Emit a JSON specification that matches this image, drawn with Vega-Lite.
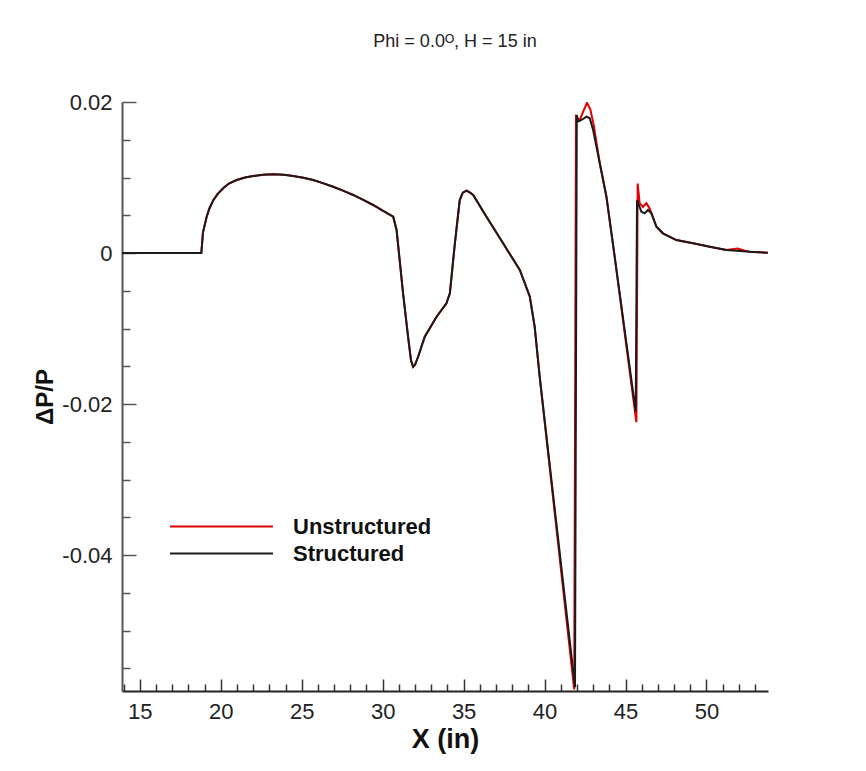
{
  "$schema": "https://vega.github.io/schema/vega-lite/v6.json",
  "width": 646,
  "height": 589,
  "autosize": {"type": "none"},
  "padding": {"left": 122, "top": 102, "right": 98, "bottom": 80},
  "background": "white",
  "config": {"view": {"stroke": null}, "font": "Liberation Sans"},
  "title": {"text": "Phi = 0.0ᴼ, H = 15 in", "fontSize": 18, "fontWeight": "normal", "font": "Liberation Sans", "color": "#222", "anchor": "middle", "dx": 10, "offset": 40},
  "datasets": {
    "pts": [
      {"series": "Unstructured", "x": 13.9, "y": 0},
      {"series": "Unstructured", "x": 18.8, "y": 0},
      {"series": "Unstructured", "x": 18.9, "y": 0.0027},
      {"series": "Unstructured", "x": 19.13, "y": 0.0048},
      {"series": "Unstructured", "x": 19.3, "y": 0.0059},
      {"series": "Unstructured", "x": 19.54, "y": 0.0070},
      {"series": "Unstructured", "x": 19.8, "y": 0.0078},
      {"series": "Unstructured", "x": 20.15, "y": 0.00857},
      {"series": "Unstructured", "x": 20.5, "y": 0.0092},
      {"series": "Unstructured", "x": 20.98, "y": 0.00967},
      {"series": "Unstructured", "x": 21.5, "y": 0.0100},
      {"series": "Unstructured", "x": 22.0, "y": 0.0102},
      {"series": "Unstructured", "x": 22.6, "y": 0.01037},
      {"series": "Unstructured", "x": 23.24, "y": 0.01043},
      {"series": "Unstructured", "x": 23.9, "y": 0.01037},
      {"series": "Unstructured", "x": 24.47, "y": 0.0102},
      {"series": "Unstructured", "x": 25.1, "y": 0.00997},
      {"series": "Unstructured", "x": 25.71, "y": 0.00967},
      {"series": "Unstructured", "x": 26.3, "y": 0.00926},
      {"series": "Unstructured", "x": 26.94, "y": 0.00878},
      {"series": "Unstructured", "x": 27.55, "y": 0.00826},
      {"series": "Unstructured", "x": 28.18, "y": 0.00769},
      {"series": "Unstructured", "x": 28.8, "y": 0.00705},
      {"series": "Unstructured", "x": 29.41, "y": 0.00636},
      {"series": "Unstructured", "x": 30.0, "y": 0.00563},
      {"series": "Unstructured", "x": 30.65, "y": 0.00481},
      {"series": "Unstructured", "x": 30.86, "y": 0.00305},
      {"series": "Unstructured", "x": 31.26, "y": -0.00534},
      {"series": "Unstructured", "x": 31.57, "y": -0.01109},
      {"series": "Unstructured", "x": 31.75, "y": -0.0142},
      {"series": "Unstructured", "x": 31.88, "y": -0.01507},
      {"series": "Unstructured", "x": 32.0, "y": -0.0148},
      {"series": "Unstructured", "x": 32.19, "y": -0.01374},
      {"series": "Unstructured", "x": 32.6, "y": -0.01109},
      {"series": "Unstructured", "x": 33.33, "y": -0.00844},
      {"series": "Unstructured", "x": 33.94, "y": -0.00666},
      {"series": "Unstructured", "x": 34.15, "y": -0.00534},
      {"series": "Unstructured", "x": 34.46, "y": 0.00129},
      {"series": "Unstructured", "x": 34.76, "y": 0.00702},
      {"series": "Unstructured", "x": 34.95, "y": 0.0080},
      {"series": "Unstructured", "x": 35.18, "y": 0.00825},
      {"series": "Unstructured", "x": 35.4, "y": 0.0080},
      {"series": "Unstructured", "x": 35.59, "y": 0.00769},
      {"series": "Unstructured", "x": 36.41, "y": 0.00481},
      {"series": "Unstructured", "x": 37.44, "y": 0.00129},
      {"series": "Unstructured", "x": 38.47, "y": -0.00225},
      {"series": "Unstructured", "x": 39.09, "y": -0.00579},
      {"series": "Unstructured", "x": 39.39, "y": -0.00977},
      {"series": "Unstructured", "x": 39.7, "y": -0.01639},
      {"series": "Unstructured", "x": 41.83, "y": -0.0578},
      {"series": "Unstructured", "x": 41.94, "y": 0.0181},
      {"series": "Unstructured", "x": 42.17, "y": 0.0176},
      {"series": "Unstructured", "x": 42.38, "y": 0.0187},
      {"series": "Unstructured", "x": 42.62, "y": 0.0199},
      {"series": "Unstructured", "x": 42.83, "y": 0.0190},
      {"series": "Unstructured", "x": 43.03, "y": 0.0170},
      {"series": "Unstructured", "x": 43.41, "y": 0.01189},
      {"series": "Unstructured", "x": 43.82, "y": 0.00746},
      {"series": "Unstructured", "x": 44.3, "y": 0.0},
      {"series": "Unstructured", "x": 45.67, "y": -0.0224},
      {"series": "Unstructured", "x": 45.75, "y": 0.0092},
      {"series": "Unstructured", "x": 45.87, "y": 0.0066},
      {"series": "Unstructured", "x": 46.08, "y": 0.0061},
      {"series": "Unstructured", "x": 46.29, "y": 0.0066},
      {"series": "Unstructured", "x": 46.49, "y": 0.0059},
      {"series": "Unstructured", "x": 46.91, "y": 0.00348},
      {"series": "Unstructured", "x": 47.31, "y": 0.00261},
      {"series": "Unstructured", "x": 48.14, "y": 0.00172},
      {"series": "Unstructured", "x": 49.17, "y": 0.00129},
      {"series": "Unstructured", "x": 50.2, "y": 0.00083},
      {"series": "Unstructured", "x": 51.23, "y": 0.0004},
      {"series": "Unstructured", "x": 51.93, "y": 0.0006},
      {"series": "Unstructured", "x": 52.37, "y": 0.0003},
      {"series": "Unstructured", "x": 52.66, "y": 0.00017},
      {"series": "Unstructured", "x": 53.79, "y": 0.00004},
      {"series": "Structured", "x": 13.9, "y": 0},
      {"series": "Structured", "x": 18.8, "y": 0},
      {"series": "Structured", "x": 18.9, "y": 0.0027},
      {"series": "Structured", "x": 19.13, "y": 0.0048},
      {"series": "Structured", "x": 19.3, "y": 0.0059},
      {"series": "Structured", "x": 19.54, "y": 0.0070},
      {"series": "Structured", "x": 19.8, "y": 0.0078},
      {"series": "Structured", "x": 20.15, "y": 0.00857},
      {"series": "Structured", "x": 20.5, "y": 0.0092},
      {"series": "Structured", "x": 20.98, "y": 0.00967},
      {"series": "Structured", "x": 21.5, "y": 0.0100},
      {"series": "Structured", "x": 22.0, "y": 0.0102},
      {"series": "Structured", "x": 22.6, "y": 0.01037},
      {"series": "Structured", "x": 23.24, "y": 0.01043},
      {"series": "Structured", "x": 23.9, "y": 0.01037},
      {"series": "Structured", "x": 24.47, "y": 0.0102},
      {"series": "Structured", "x": 25.1, "y": 0.00997},
      {"series": "Structured", "x": 25.71, "y": 0.00967},
      {"series": "Structured", "x": 26.3, "y": 0.00926},
      {"series": "Structured", "x": 26.94, "y": 0.00878},
      {"series": "Structured", "x": 27.55, "y": 0.00826},
      {"series": "Structured", "x": 28.18, "y": 0.00769},
      {"series": "Structured", "x": 28.8, "y": 0.00705},
      {"series": "Structured", "x": 29.41, "y": 0.00636},
      {"series": "Structured", "x": 30.0, "y": 0.00563},
      {"series": "Structured", "x": 30.65, "y": 0.00481},
      {"series": "Structured", "x": 30.86, "y": 0.00305},
      {"series": "Structured", "x": 31.26, "y": -0.00534},
      {"series": "Structured", "x": 31.57, "y": -0.01109},
      {"series": "Structured", "x": 31.75, "y": -0.0142},
      {"series": "Structured", "x": 31.88, "y": -0.01507},
      {"series": "Structured", "x": 32.0, "y": -0.0148},
      {"series": "Structured", "x": 32.19, "y": -0.01374},
      {"series": "Structured", "x": 32.6, "y": -0.01109},
      {"series": "Structured", "x": 33.33, "y": -0.00844},
      {"series": "Structured", "x": 33.94, "y": -0.00666},
      {"series": "Structured", "x": 34.15, "y": -0.00534},
      {"series": "Structured", "x": 34.46, "y": 0.00129},
      {"series": "Structured", "x": 34.76, "y": 0.00702},
      {"series": "Structured", "x": 34.95, "y": 0.0080},
      {"series": "Structured", "x": 35.18, "y": 0.00825},
      {"series": "Structured", "x": 35.4, "y": 0.0080},
      {"series": "Structured", "x": 35.59, "y": 0.00769},
      {"series": "Structured", "x": 36.41, "y": 0.00481},
      {"series": "Structured", "x": 37.44, "y": 0.00129},
      {"series": "Structured", "x": 38.47, "y": -0.00225},
      {"series": "Structured", "x": 39.09, "y": -0.00579},
      {"series": "Structured", "x": 39.39, "y": -0.00977},
      {"series": "Structured", "x": 39.7, "y": -0.01639},
      {"series": "Structured", "x": 41.88, "y": -0.0575},
      {"series": "Structured", "x": 41.99, "y": 0.0183},
      {"series": "Structured", "x": 42.07, "y": 0.0174},
      {"series": "Structured", "x": 42.28, "y": 0.01762},
      {"series": "Structured", "x": 42.59, "y": 0.01806},
      {"series": "Structured", "x": 42.79, "y": 0.01785},
      {"series": "Structured", "x": 43.0, "y": 0.0163},
      {"series": "Structured", "x": 43.41, "y": 0.01189},
      {"series": "Structured", "x": 43.82, "y": 0.00746},
      {"series": "Structured", "x": 44.3, "y": 0.0},
      {"series": "Structured", "x": 45.63, "y": -0.0210},
      {"series": "Structured", "x": 45.71, "y": 0.0070},
      {"series": "Structured", "x": 45.98, "y": 0.00547},
      {"series": "Structured", "x": 46.18, "y": 0.00526},
      {"series": "Structured", "x": 46.39, "y": 0.0057},
      {"series": "Structured", "x": 46.6, "y": 0.00526},
      {"series": "Structured", "x": 46.91, "y": 0.00348},
      {"series": "Structured", "x": 47.31, "y": 0.00261},
      {"series": "Structured", "x": 48.14, "y": 0.00172},
      {"series": "Structured", "x": 49.17, "y": 0.00129},
      {"series": "Structured", "x": 50.2, "y": 0.00083},
      {"series": "Structured", "x": 51.23, "y": 0.0004},
      {"series": "Structured", "x": 52.66, "y": 0.00017},
      {"series": "Structured", "x": 53.79, "y": 0.00004}
    ]
  },
  "data": {"name": "pts"},
  "encoding": {
    "x": {
      "field": "x", "type": "quantitative",
      "scale": {"domain": [13.9, 53.8], "nice": false, "zero": false},
      "axis": {
        "title": "X (in)", "titleFontSize": 27, "titleFontWeight": "bold", "titleColor": "#111", "titlePadding": -1,
        "values": [14,15,16,17,18,19,20,21,22,23,24,25,26,27,28,29,30,31,32,33,34,35,36,37,38,39,40,41,42,43,44,45,46,47,48,49,50,51,52,53],
        "labelExpr": "datum.value % 5 == 0 ? datum.label : ''",
        "labelFontSize": 22, "labelColor": "#222", "labelPadding": 22, "labelFlush": false, "labelOverlap": false,
        "tickSize": {"condition": {"test": "datum.value % 5 == 0", "value": -12}, "value": -7},
        "tickColor": "#333", "tickWidth": 1.5, "domainColor": "#222", "domainWidth": 2, "grid": false
      }
    },
    "y": {
      "field": "y", "type": "quantitative",
      "scale": {"domain": [-0.058, 0.02], "nice": false, "zero": false},
      "axis": {
        "title": "ΔP/P", "titleFontSize": 24, "titleFontWeight": "bold", "titleColor": "#111", "titlePadding": 4,
        "values": [-0.055,-0.05,-0.045,-0.04,-0.035,-0.03,-0.025,-0.02,-0.015,-0.01,-0.005,0,0.005,0.01,0.015,0.02],
        "labelExpr": "abs(round(datum.value*1000)) % 20 == 0 ? (datum.value == 0 ? '0' : (datum.value < 0 ? '-' : '') + format(abs(datum.value), '.2f')) : ''",
        "labelFontSize": 22, "labelColor": "#222", "labelPadding": 24, "labelFlush": false, "labelOverlap": false,
        "tickSize": {"condition": {"test": "abs(round(datum.value*1000)) % 20 == 0", "value": -14}, "value": -8},
        "tickColor": "#555", "tickWidth": 1.5, "domainColor": "#555", "domainWidth": 2, "grid": false
      }
    },
    "color": {
      "field": "series", "type": "nominal",
      "scale": {"domain": ["Unstructured", "Structured"], "range": ["#e00000", "#1a1a1a"]},
      "legend": {
        "orient": "none", "legendX": 88, "legendY": 413, "title": null,
        "symbolType": "M-5,0H5", "symbolSize": 424, "symbolStrokeWidth": 2,
        "labelFontSize": 22, "labelFontWeight": "bold", "labelColor": "#111", "labelOffset": 60,
        "rowPadding": 4, "padding": 0
      }
    }
  },
  "layer": [
    {"transform": [{"filter": "datum.series == 'Unstructured'"}], "mark": {"type": "line", "strokeWidth": 2, "clip": true}},
    {"transform": [{"filter": "datum.series == 'Structured'"}], "mark": {"type": "line", "strokeWidth": 2, "clip": true}}
  ]
}
